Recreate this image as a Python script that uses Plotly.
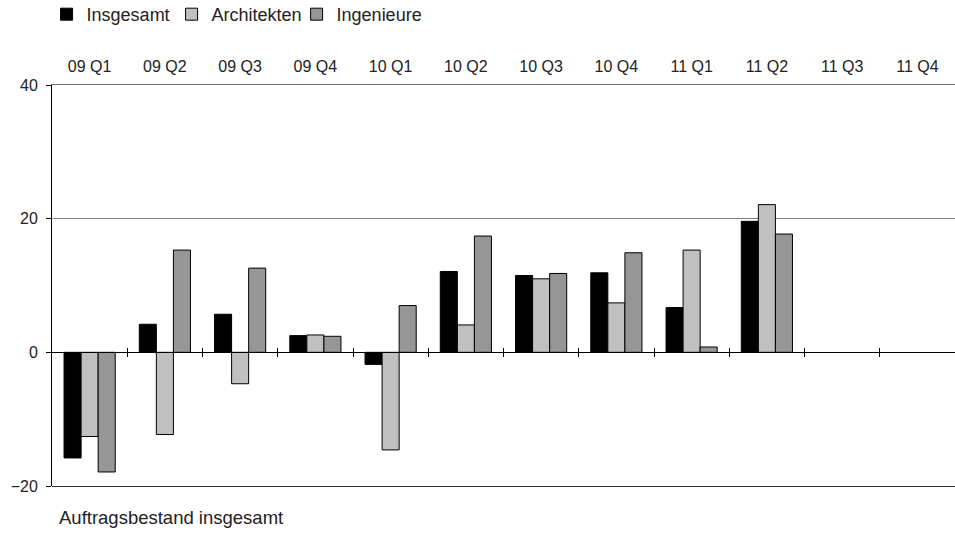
import plotly.graph_objects as go

categories = ["09 Q1", "09 Q2", "09 Q3", "09 Q4", "10 Q1", "10 Q2",
              "10 Q3", "10 Q4", "11 Q1", "11 Q2", "11 Q3", "11 Q4"]
insgesamt = [-15.8, 4.2, 5.7, 2.5, -1.8, 12.1, 11.5, 11.9, 6.7, 19.6, None, None]
architekten = [-12.6, -12.3, -4.7, 2.6, -14.6, 4.1, 11.0, 7.4, 15.3, 22.1, None, None]
ingenieure = [-17.9, 15.3, 12.6, 2.4, 7.0, 17.4, 11.8, 14.9, 0.8, 17.7, None, None]
y_ticks = [-20, 0, 20, 40]

series = [("Insgesamt", insgesamt, "#000000"),
          ("Architekten", architekten, "#c0c0c0"),
          ("Ingenieure", ingenieure, "#969696")]

fig = go.Figure()
for name, vals, col in series:
    fig.add_trace(go.Bar(x=categories, y=vals, name=name,
                         marker=dict(color=col, line=dict(color="#000000", width=1))))

n = len(categories)
bounds = [i + 0.5 for i in range(n - 1)]
zero_pos = (0 - y_ticks[0]) / (y_ticks[-1] - y_ticks[0])
xr = [-0.5, n - 0.5]

fig.update_layout(
    width=955, height=533,
    margin=dict(l=52, r=0, t=85, b=47, autoexpand=False),
    paper_bgcolor="white", plot_bgcolor="white",
    font=dict(family="Liberation Sans, Arial", size=16, color="#222222"),
    barmode="group", bargap=0.32, bargroupgap=0,
    showlegend=True,
    legend=dict(orientation="h", x=-0.006, y=1.222, yref="paper", yanchor="top",
                xanchor="left", font=dict(size=18), itemwidth=30,
                entrywidth=80, traceorder="normal", tracegroupgap=0),
    xaxis=dict(type="category", categoryorder="array", categoryarray=categories,
               side="top", showline=True, linecolor="#707070", linewidth=1,
               ticks="", showgrid=False, ticklabelstandoff=6, range=xr,
               tickfont=dict(size=16), automargin=False),
    xaxis2=dict(overlaying="x", anchor="free", position=zero_pos, range=xr,
                showline=True, linecolor="#000000", linewidth=1,
                tickvals=bounds, ticks="outside", ticklen=4, tickcolor="#000000",
                showticklabels=False, showgrid=False, zeroline=False),
    xaxis3=dict(overlaying="x", anchor="free", position=zero_pos, range=xr,
                showline=False, side="bottom",
                tickvals=bounds, ticks="inside", ticklen=4, tickcolor="#000000",
                showticklabels=False, showgrid=False, zeroline=False),
    xaxis4=dict(overlaying="x", anchor="free", position=0, range=xr,
                showline=True, linecolor="#303030", linewidth=1,
                ticks="", showticklabels=False, showgrid=False, zeroline=False),
    yaxis=dict(range=[y_ticks[0], y_ticks[-1]], tickvals=y_ticks,
               showline=True, linecolor="#000000", linewidth=1,
               ticks="outside", ticklen=5, tickcolor="#000000",
               ticklabelstandoff=5, automargin=False,
               showgrid=True, gridcolor="#808080", gridwidth=1,
               zeroline=False, tickfont=dict(size=16)),
    annotations=[dict(text="Auftragsbestand insgesamt", xref="paper", yref="paper",
                      x=0.0055, y=-0.047, xanchor="left", yanchor="top",
                      showarrow=False, font=dict(size=18.5))],
)

# invisible helper traces so the overlay axes render
for ax in ["x2", "x3", "x4"]:
    fig.add_trace(go.Scatter(x=[0], y=[0], xaxis=ax, mode="markers",
                             marker=dict(opacity=0), showlegend=False, hoverinfo="skip"))

fig.write_html("out.html", config={"displayModeBar": False},
               post_script="document.body.style.margin='0';document.body.style.overflow='hidden';")
